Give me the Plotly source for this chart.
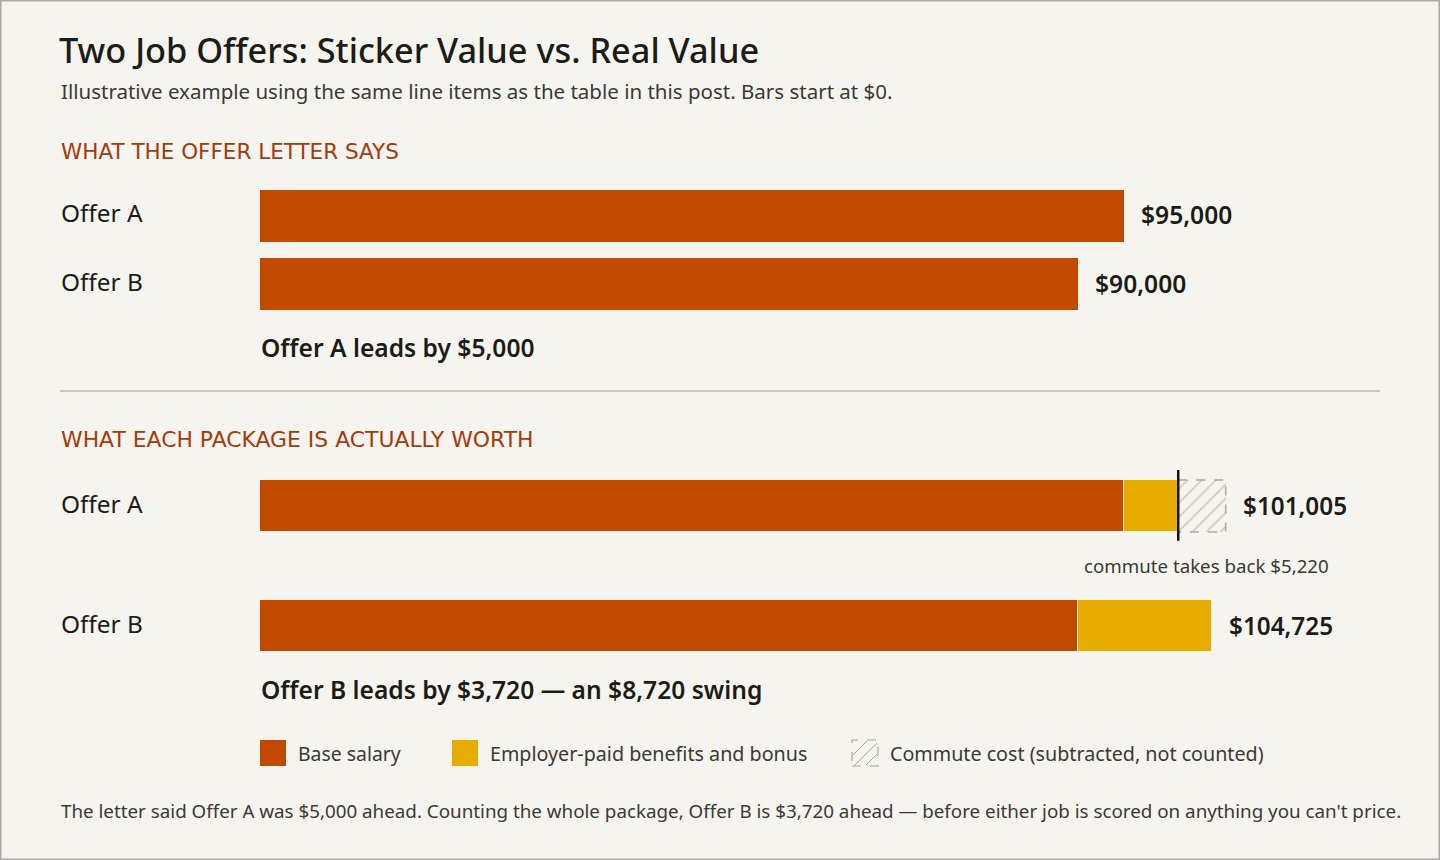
import plotly.graph_objects as go

# ---- data ----
offers = ["Offer A", "Offer B"]
sticker_salary = [95000, 90000]
base_salary = [95000, 90000]
benefits_bonus = [6005, 14725]
commute_cost = [5220, None]
real_totals = [101005, 104725]

title = "Two Job Offers: Sticker Value vs. Real Value"
subtitle = "Illustrative example using the same line items as the table in this post. Bars start at $0."
section1 = "WHAT THE OFFER LETTER SAYS"
section2 = "WHAT EACH PACKAGE IS ACTUALLY WORTH"
lead1 = "Offer A leads by $5,000"
lead2 = "Offer B leads by $3,720 — an $8,720 swing"
commute_note = "commute takes back $5,220"
legend_labels = ["Base salary", "Employer-paid benefits and bonus", "Commute cost (subtracted, not counted)"]
footer = ("The letter said Offer A was $5,000 ahead. Counting the whole package, Offer B is $3,720 ahead"
          " — before either job is scored on anything you can't price.")

# ---- style ----
W, H = 1440, 860
BG = "#f6f4ee"
BASE = "#c24a00"
BEN = "#e6ad00"
HEAD = "#a53a0c"
DARK = "#1c1c18"
MID = "#3a3a36"
FONT = "Noto Sans, Open Sans, sans-serif"
HFONT = "DejaVu Sans"
XMAX = 123200


def py(px):
    return 1 - px / H


def pxx(px):
    return px / W


fig = go.Figure()

# top panel
fig.add_trace(go.Bar(x=sticker_salary, y=offers, orientation="h", width=0.765,
                     marker=dict(color=BASE, line=dict(width=0)),
                     xaxis="x", yaxis="y", showlegend=False, hoverinfo="skip"))

# bottom panel
fig.add_trace(go.Bar(x=base_salary, y=offers, orientation="h", width=0.433,
                     marker=dict(color=BASE, line=dict(color=BG, width=1.5)),
                     xaxis="x2", yaxis="y2", showlegend=False, hoverinfo="skip"))
fig.add_trace(go.Bar(x=benefits_bonus, y=offers, orientation="h", width=0.433,
                     marker=dict(color=BEN, line=dict(color=BG, width=1.5)),
                     xaxis="x2", yaxis="y2", showlegend=False, hoverinfo="skip"))
fig.add_trace(go.Bar(x=commute_cost, y=offers, orientation="h", width=0.433,
                     marker=dict(color=BG, line=dict(width=0),
                                 pattern=dict(shape="/", fgcolor="#a3a19b", bgcolor=BG,
                                              size=10, solidity=0.16)),
                     xaxis="x2", yaxis="y2", showlegend=False, hoverinfo="skip"))

annotations = []
shapes = []

# border
shapes.append(dict(type="rect", xref="paper", yref="paper", x0=0, x1=1, y0=0, y1=1,
                   line=dict(color="#a9a9a5", width=3), fillcolor="rgba(0,0,0,0)", layer="above"))


def text(x, y, s, size, color=DARK, anchor="left", weight="normal", xref="paper", yref="paper",
         xshift=0, yshift=0, family=FONT):
    annotations.append(dict(x=x, y=y, xref=xref, yref=yref, text=s, showarrow=False,
                            xanchor=anchor, yanchor="middle", xshift=xshift, yshift=yshift,
                            font=dict(family=family, size=size, color=color, weight=weight)))


text(pxx(57), py(50), title, 34.3, DARK, weight=500)
text(pxx(59), py(91), subtitle, 20.5, MID)
text(pxx(59), py(151), section1, 21.5, HEAD, family=HFONT)
text(pxx(59), py(439), section2, 21.9, HEAD, family=HFONT)

for i, o in enumerate(offers):
    text(pxx(59), o, o, 24.4, DARK, yref="y", yshift=3)
    text(sticker_salary[i], o, f"${sticker_salary[i]:,}", 24.6, DARK, weight=600, xref="x", yref="y",
         xshift=15, yshift=1)
    text(pxx(59), o, o, 24.4, DARK, yref="y2", yshift=3)

# totals at end of bars
commute_end = real_totals[0] + commute_cost[0]
text(commute_end, offers[0], f"${real_totals[0]:,}", 24.3, DARK, weight=600, xref="x2", yref="y2",
     xshift=15, yshift=1)
text(real_totals[1], offers[1], f"${real_totals[1]:,}", 24.3, DARK, weight=600, xref="x2", yref="y2",
     xshift=15, yshift=1)

text(pxx(259), py(347), lead1, 24.6, DARK, weight=600)
text(pxx(259), py(689), lead2, 24.6, DARK, weight=600)

# commute note, centred under the hatched segment
annotations.append(dict(x=real_totals[0] + commute_cost[0] / 2, y=py(565), xref="x2", yref="paper",
                        text=commute_note, showarrow=False, xanchor="center", yanchor="middle",
                        xshift=5, font=dict(family=FONT, size=18.7, color=MID)))

# hatched outline + marker line
hw = 0.433 / 2
shapes.append(dict(type="rect", xref="x2", yref="y2", x0=real_totals[0], x1=commute_end,
                   y0=0 - hw, y1=0 + hw, line=dict(color="#aaa8a2", width=1.5, dash="dash"),
                   fillcolor="rgba(0,0,0,0)"))
shapes.append(dict(type="line", xref="x2", yref="y2", x0=real_totals[0], x1=real_totals[0],
                   y0=-0.30, y1=0.29, line=dict(color="#111", width=2.5)))

# divider
shapes.append(dict(type="line", xref="paper", yref="paper", x0=pxx(60), x1=pxx(1380),
                   y0=py(391), y1=py(391), line=dict(color="#bdbbb5", width=1.5)))

# legend
leg_y0, leg_y1 = py(766), py(740)
shapes.append(dict(type="rect", xref="paper", yref="paper", x0=pxx(260), x1=pxx(286),
                   y0=leg_y0, y1=leg_y1, fillcolor=BASE, line=dict(width=0)))
text(pxx(296), py(753), legend_labels[0], 19.4, MID)
shapes.append(dict(type="rect", xref="paper", yref="paper", x0=pxx(452), x1=pxx(478),
                   y0=leg_y0, y1=leg_y1, fillcolor=BEN, line=dict(width=0)))
text(pxx(488), py(753), legend_labels[1], 19.7, MID)
shapes.append(dict(type="rect", xref="paper", yref="paper", x0=pxx(852), x1=pxx(878),
                   y0=leg_y0, y1=leg_y1, fillcolor=BG, line=dict(color="#aaa8a2", width=1.2, dash="dash")))
for (x0, y0, x1, y1) in [(853, 755, 867, 741), (855, 765, 877, 743), (866, 765, 877, 754)]:
    shapes.append(dict(type="line", xref="paper", yref="paper", x0=pxx(x0), x1=pxx(x1),
                       y0=py(y0), y1=py(y1), line=dict(color="#aaa8a2", width=1)))
text(pxx(888), py(753), legend_labels[2], 19.7, MID)

text(pxx(59), py(811), footer, 18.8, MID)

fig.update_layout(
    width=W, height=H, margin=dict(l=0, r=0, t=0, b=0),
    paper_bgcolor=BG, plot_bgcolor=BG, barmode="stack", bargap=0,
    showlegend=False, annotations=annotations, shapes=shapes,
    xaxis=dict(domain=[pxx(260), pxx(1380)], range=[0, XMAX], visible=False, fixedrange=True),
    yaxis=dict(domain=[py(318), py(182)], range=[1.5, -0.5], visible=False, type="category",
               anchor="x", fixedrange=True),
    xaxis2=dict(domain=[pxx(260), pxx(1380)], range=[0, XMAX], visible=False, anchor="y2",
                fixedrange=True),
    yaxis2=dict(domain=[py(686), py(446)], range=[1.5, -0.5], visible=False, type="category",
                anchor="x2", fixedrange=True),
)

fig.write_html("out.html", config={"displayModeBar": False})
